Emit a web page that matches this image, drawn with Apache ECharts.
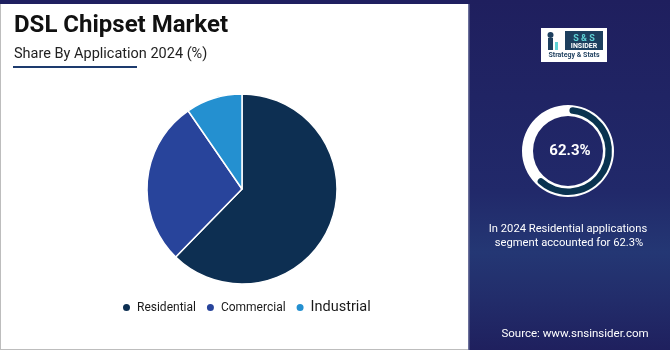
<!DOCTYPE html>
<html>
<head>
<meta charset="utf-8">
<script src="https://cdn.jsdelivr.net/npm/echarts@6/dist/echarts.min.js"></script>
<style>
html,body{margin:0;padding:0;background:#1f2060;}
#chart{width:670px;height:350px;}
</style>
</head>
<body>
<div id="chart"></div>
<script>
// ---- data ----
var categories = ['Residential', 'Commercial', 'Industrial'];
var shares = [62.3, 28.1, 9.6];
var highlightIndex = 0;
var titleText = 'DSL Chipset Market';
var subtitleText = 'Share By Application 2024 (%)';
var noteLines = ['In 2024 Residential applications', 'segment accounted for 62.3%'];
var sourceText = 'Source: www.snsinsider.com';

var sliceColors = ['#0d2f52', '#28449b', '#2490d0'];
var legendFont = [12, 12, 14.5];

var chart = echarts.init(document.getElementById('chart'));
var hl = shares[highlightIndex];

var option = {
  animation: false,
  backgroundColor: '#1f2060',
  textStyle: { fontFamily: 'Roboto' },
  graphic: [
    // right panel gradient
    { type: 'rect', z: 0, shape: { x: 469, y: 0, width: 201, height: 350 },
      style: { fill: new echarts.graphic.LinearGradient(0, 0, 0, 1, [
        { offset: 0, color: '#1f1f5e' },
        { offset: 0.55, color: '#21296a' },
        { offset: 0.72, color: '#243774' },
        { offset: 0.86, color: '#222c6a' },
        { offset: 1, color: '#1f205e' }
      ]) } },
    // left border / bottom border
    { type: 'rect', z: 0, shape: { x: 0, y: 4, width: 469, height: 346 }, style: { fill: '#bdbdbd' } },
    // white card
    { type: 'rect', z: 0, shape: { x: 1, y: 4, width: 467, height: 345 }, style: { fill: '#ffffff' } },
    { type: 'rect', z: 0, shape: { x: 468, y: 4, width: 1.5, height: 346 }, style: { fill: '#6a6f9a' } },
    // title
    { type: 'text', z: 5, left: 14, top: 14,
      style: { text: titleText, font: 'bold 24px Roboto', fill: '#111111' } },
    { type: 'text', z: 5, left: 14, top: 47,
      style: { text: subtitleText, font: '14.5px Roboto', fill: '#222222' } },
    { type: 'rect', z: 5, shape: { x: 13, y: 66, width: 124, height: 2 }, style: { fill: '#1d3b6e' } },
    // logo
    { type: 'rect', z: 5, shape: { x: 541, y: 28, width: 66, height: 34 }, style: { fill: '#ffffff' } },
    { type: 'rect', z: 6, shape: { x: 565, y: 31, width: 38, height: 19 }, style: { fill: '#1d3f5e' } },
    { type: 'text', z: 7, x: 584, y: 34,
      style: { text: 'S & S', font: 'bold 9px Roboto', fill: '#5fd3d6', align: 'center' } },
    { type: 'text', z: 7, x: 584, y: 43,
      style: { text: 'INSIDER', font: 'bold 7px Roboto', fill: '#ffffff', align: 'center' } },
    { type: 'text', z: 7, x: 574, y: 52,
      style: { text: 'Strategy & Stats', font: 'bold 7px Roboto', fill: '#1d3f5e', align: 'center' } },
    { type: 'rect', z: 7, shape: { x: 548, y: 38, width: 5, height: 12 }, style: { fill: '#1d3f5e' } },
    { type: 'circle', z: 7, shape: { cx: 550.5, cy: 35, r: 3 }, style: { fill: '#1d3f5e' } },
    { type: 'rect', z: 7, shape: { x: 555, y: 42, width: 3, height: 8 }, style: { fill: '#5fd3d6' } },
    // centre value
    { type: 'text', z: 10, x: 570, y: 151,
      style: { text: hl.toFixed(1) + '%', font: 'bold 15px Roboto', fill: '#ffffff', align: 'center', verticalAlign: 'middle' } },
    // note
    { type: 'text', z: 10, x: 568, y: 229,
      style: { text: noteLines[0], font: '11.2px Roboto', fill: '#ffffff', align: 'center', verticalAlign: 'middle' } },
    { type: 'text', z: 10, x: 569, y: 243,
      style: { text: noteLines[1], font: '11.2px Roboto', fill: '#ffffff', align: 'center', verticalAlign: 'middle' } },
    // source
    { type: 'text', z: 10, x: 575, y: 334,
      style: { text: sourceText, font: '11.5px Roboto', fill: '#ffffff', align: 'center', verticalAlign: 'middle' } }
  ],
  legend: {
    left: 121, top: 300, padding: 0,
    itemWidth: 9, itemHeight: 9, itemGap: 9,
    icon: 'circle',
    textStyle: { fontFamily: 'Roboto', color: '#1a1a1a', fontSize: 12, padding: [0, 0, 0, 1] },
    data: categories.map(function (c, i) {
      return { name: c, textStyle: { fontSize: legendFont[i] } };
    })
  },
  series: [
    {
      type: 'pie', name: 'share', z: 3,
      center: [242, 189], radius: 95, startAngle: 90, clockwise: true,
      label: { show: false }, labelLine: { show: false },
      emphasis: { disabled: true },
      itemStyle: { borderColor: '#ffffff', borderWidth: 1.5 },
      data: categories.map(function (c, i) {
        return { name: c, value: shares[i], itemStyle: { color: sliceColors[i] } };
      })
    },
    {
      type: 'pie', name: 'ringBg', z: 3, silent: true,
      center: [568, 151], radius: [35, 46],
      label: { show: false }, labelLine: { show: false },
      emphasis: { disabled: true },
      data: [{ name: 'ring', value: 100, itemStyle: { color: '#ffffff' } }]
    },
    {
      type: 'pie', name: 'ringVal', z: 4, silent: true,
      center: [568, 151], radius: [37.5, 44], startAngle: 88, clockwise: true,
      label: { show: false }, labelLine: { show: false },
      emphasis: { disabled: true },
      itemStyle: { borderRadius: 4 },
      data: [
        { name: 'hl', value: hl, itemStyle: { color: '#0a3350' } },
        { name: 'rest', value: 100 - hl, itemStyle: { color: 'rgba(0,0,0,0)' } }
      ]
    }
  ]
};
chart.setOption(option);
</script>
</body>
</html>
